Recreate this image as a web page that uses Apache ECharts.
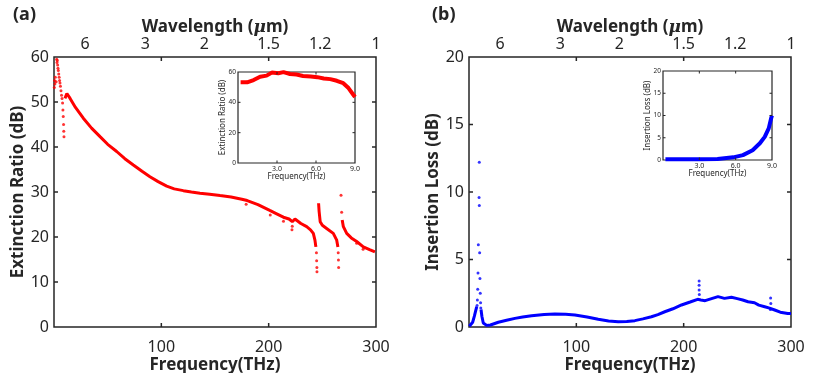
<!DOCTYPE html>
<html><head><meta charset="utf-8">
<script src="https://cdn.jsdelivr.net/npm/echarts@6/dist/echarts.min.js"></script>
<style>html,body{margin:0;padding:0;background:#fff}#c{width:830px;height:373px}</style>
</head><body><div id="c"></div>
<script>
// ---------- DATA ----------
const freqTicks = [100, 200];
const wlLabelFreq = [29, 85, 140, 200, 248, 300];
const wlLabels = ['6', '3', '2', '1.5', '1.2', '1'];
const erTicks = [10, 20, 30, 40, 50];
const ilTicks = [5, 10, 15];
const insetFreqTicks = [3, 6];
const erInsetTicks = [20, 40];
const ilInsetTicks = [5, 10, 15];

// (a) Extinction ratio main curve segments [THz, dB]
const erSeg1 = [[10.2,50.8],[12,51.9],[15,50.8],[20,48.8],[27.3,46.4],[35,44.2],[42.9,42.3],[50,40.6],[58.4,39.0],[66,37.4],[73.9,36.0],[82,34.6],[89.4,33.4],[97,32.3],[105,31.3],[112,30.7],[120.5,30.3],[128,30.0],[136,29.7],[145,29.5],[154.7,29.2],[165,28.9],[175,28.4],[180,28.1],[190,27.2],[201,25.9],[207,25.2],[213.7,24.4],[219,24.0],[222,23.4],[224.5,24.0],[230,23.0],[235.4,22.3],[239,21.6],[241.6,20.8],[243.1,19.3],[244,17.8]];
const erSeg2 = [[246.5,27.5],[247,25.7],[248,23.4],[250,22.6],[254,21.9],[260.2,20.8],[263.4,19.3],[264.5,17.8]];
const erSeg3 = [[268.5,23.8],[269.6,22.3],[272.7,20.8],[277,19.8],[282,19.0],[288.2,17.8],[294,17.2],[299,16.7]];
const erDots = [[0.3,53.2],[0.5,54.8],[0.8,54],[1.2,55.5],[2.0,54.5],[2.5,59.5],[2.8,58.8],[3.1,59.2],[3.4,58.2],[3.7,57.5],[4.0,57],[4.4,56.2],[4.8,55.5],[5.2,54.8],[5.6,54.2],[6.0,53.5],[6.5,52.5],[7.0,51.5],[7.5,50.8],[8.0,49.8],[8.3,48.2],[8.6,46.8],[8.9,45.0],[9.1,43.5],[9.3,42.3],
  [179,27.3],[201.5,24.9],[213.8,23.5],[221.7,21.6],[222,22.4],[244.5,16.5],[244.7,14.7],[244.9,13.2],[245,12.3],[264.8,16.5],[265,14.9],[265.2,13.2],[267.4,29.3],[268,25.5],[282,18.6],[288,17.3]];

// (b) Insertion loss main curve segments [THz, dB]
const ilSeg1 = [[0.3,0.05],[2,0.15],[3.4,0.35],[5,0.8],[6.2,1.2],[7.2,1.5]];
const ilSeg2 = [[11.2,1.3],[12,0.8],[13.3,0.3],[16.4,0.12],[20,0.15],[27.3,0.35],[35,0.5],[42.8,0.64],[50,0.74],[58.3,0.84],[70,0.93],[80,0.96],[90,0.94],[98.7,0.89],[110,0.74],[120.4,0.57],[130,0.45],[139,0.39],[147,0.4],[154.5,0.47],[162,0.6],[170,0.76],[176,0.92],[182.4,1.13],[190,1.35],[198,1.63],[206,1.85],[213,2.05],[216,2.0],[220,1.95],[226,2.1],[232,2.25],[238,2.12],[244.5,2.2],[250,2.1],[255,2.0],[260,1.87],[266,1.8],[270,1.62],[275.5,1.5],[280,1.4],[284.8,1.26],[290,1.1],[297,1.0],[300,1.0]];
const ilDots = [[9.6,12.2],[9.4,9.6],[9.6,9.0],[8.7,6.1],[9.9,5.5],[8.4,4.0],[10.2,3.6],[8.1,2.8],[10.5,2.5],[7.8,2.0],[10.8,1.8],[7.5,1.6],[11.0,1.4],[214.4,3.4],[214.4,3.1],[214.4,2.75],[214.6,2.4],[281,2.15],[281.2,1.75],[280.8,1.3]];

// insets [THz, dB]
const erInset = [[0.2,53.2],[0.7,53.2],[1.2,54.7],[1.7,56.9],[2.2,57.6],[2.6,59.6],[3.1,59.2],[3.5,59.9],[4.0,58.7],[4.5,58.3],[5.0,57.4],[5.6,57.0],[6.1,56.6],[6.6,55.7],[7.1,55.3],[7.6,54.2],[8.1,52.6],[8.5,49.4],[8.87,45.0],[9.0,43.5]];
const ilInset = [[0.2,0.15],[1.5,0.15],[3.0,0.18],[4.5,0.25],[5.8,0.6],[6.6,1.1],[7.4,2.2],[8.0,3.75],[8.4,5.2],[8.73,7.1],[8.95,9.6],[9.0,10.0]];

// ---------- CHART ----------
const FONT = 'Noto Sans';
const INK = '#262626';
const RED = '#ff0000', BLUE = '#0000ff';
const noLine = {show:false};
const noTick = {show:false};
const chart = echarts.init(document.getElementById('c'), null, {renderer:'canvas'});

// grid boxes (px)
const G = [
  {left:54, top:57, width:322, height:270},
  {left:469, top:57, width:322, height:270},
  {left:238, top:72, width:117, height:91},
  {left:663, top:71, width:109, height:89}
];

function mainX(grid) {
  return [{
    gridIndex:grid, type:'value', position:'bottom', min:0, max:300, interval:100,
    axisLine:noLine, axisTick:noTick,
    axisLabel:{color:INK, fontFamily:FONT, fontSize:16, margin:12, formatter:v=> v===0?'':String(v)},
    splitLine:{show:false},
    name:'Frequency(THz)', nameLocation:'middle', nameGap:30, nameMoveOverlap:false,
    nameTextStyle:{color:INK, fontFamily:FONT, fontSize:17, fontWeight:'bold'}
  },{
    gridIndex:grid, type:'value', position:'top', min:0, max:300,
    axisLine:noLine, axisTick:noTick,
    axisLabel:{color:INK, fontFamily:FONT, fontSize:16, margin:5, customValues:wlLabelFreq,
      formatter:v=>{const i=wlLabelFreq.indexOf(v);return i>=0?wlLabels[i]:'';}},
    splitLine:{show:false},
    name:'Wavelength ({i|μ}m)', nameLocation:'middle', nameGap:21, nameMoveOverlap:false,
    nameTextStyle:{color:INK, fontFamily:FONT, fontSize:17, fontWeight:'bold',
      rich:{i:{fontStyle:'italic', fontFamily:'DejaVu Serif', fontSize:17, color:INK}}}
  }];
}
function mainY(grid, max, interval, title) {
  return [{
    gridIndex:grid, type:'value', position:'left', min:0, max:max, interval:interval,
    axisLine:noLine, axisTick:noTick,
    axisLabel:{color:INK, fontFamily:FONT, fontSize:16, margin:5},
    splitLine:{show:false},
    name:title, nameLocation:'middle', nameGap:27, nameMoveOverlap:false,
    nameTextStyle:{color:INK, fontFamily:FONT, fontSize:17, fontWeight:'bold'}
  }];
}
function insetX(grid) {
  return [{
    gridIndex:grid, type:'value', position:'bottom', min:0, max:9, interval:3,
    axisLine:noLine, axisTick:noTick,
    axisLabel:{color:INK, fontFamily:FONT, fontSize:7, margin:2, formatter:v=> v===0?'':v.toFixed(1)},
    splitLine:{show:false},
    name:'Frequency(THz)', nameLocation:'middle', nameGap:10, nameMoveOverlap:false,
    nameTextStyle:{color:INK, fontFamily:FONT, fontSize:8}
  }];
}
function insetY(grid, max, interval, title) {
  return [{
    gridIndex:grid, type:'value', position:'left', min:0, max:max, interval:interval,
    axisLine:noLine, axisTick:noTick,
    axisLabel:{color:INK, fontFamily:FONT, fontSize:6.5, margin:2},
    splitLine:{show:false},
    name:title, nameLocation:'middle', nameGap:11, nameMoveOverlap:false,
    nameTextStyle:{color:INK, fontFamily:FONT, fontSize:8}
  }];
}
function lineS(xi, yi, data, color, w) {
  return {type:'line', xAxisIndex:xi, yAxisIndex:yi, data:data, showSymbol:false, symbol:'none',
    lineStyle:{color:color, width:w}, silent:true, animation:false, z:3};
}
function dotS(xi, yi, data, color) {
  return {type:'scatter', xAxisIndex:xi, yAxisIndex:yi, data:data, symbol:'circle', symbolSize:3,
    itemStyle:{color:color}, silent:true, animation:false, z:3};
}
// inward tick marks: short line segments at each tick value, placed through the axis scales
function tickSeg(xi, yi, a, b, w) {
  return {type:'line', xAxisIndex:xi, yAxisIndex:yi, data:[a, b], showSymbol:false, symbol:'none',
    lineStyle:{color:INK, width:w}, silent:true, animation:false, z:5};
}
function boxTicks(xi, yi, g, xr, yr, xVals, yVals, lenPx, w) {
  const dy = lenPx * (yr[1]-yr[0]) / g.height;   // tick length in y units
  const dx = lenPx * (xr[1]-xr[0]) / g.width;    // tick length in x units
  const out = [];
  xVals.forEach(v => {
    out.push(tickSeg(xi, yi, [v, yr[0]], [v, yr[0]+dy], w));
    out.push(tickSeg(xi, yi, [v, yr[1]], [v, yr[1]-dy], w));
  });
  yVals.forEach(v => {
    out.push(tickSeg(xi, yi, [xr[0], v], [xr[0]+dx, v], w));
    out.push(tickSeg(xi, yi, [xr[1], v], [xr[1]-dx, v], w));
  });
  return out;
}

const gridBase = {show:true, borderColor:INK, outerBoundsMode:'none', containLabel:false};
chart.setOption({
  animation:false,
  backgroundColor:'#fff',
  textStyle:{fontFamily:FONT},
  title:[
    {text:'(a)', left:8, top:1, textStyle:{fontFamily:FONT, fontSize:18, fontWeight:'bold', color:INK}},
    {text:'(b)', left:427, top:1, textStyle:{fontFamily:FONT, fontSize:18, fontWeight:'bold', color:INK}}
  ],
  grid:[
    Object.assign({}, G[0], {borderWidth:1.5, backgroundColor:'transparent'}, gridBase),
    Object.assign({}, G[1], {borderWidth:1.5, backgroundColor:'transparent'}, gridBase),
    Object.assign({}, G[2], {borderWidth:1.2, backgroundColor:'#fff'}, gridBase),
    Object.assign({}, G[3], {borderWidth:1.2, backgroundColor:'#fff'}, gridBase)
  ],
  // xAxis: 0 a-bottom, 1 a-top, 2 b-bottom, 3 b-top, 4 insetA, 5 insetB
  xAxis:[...mainX(0), ...mainX(1), ...insetX(2), ...insetX(3)],
  // yAxis: 0 a, 1 b, 2 insetA, 3 insetB
  yAxis:[...mainY(0,60,10,'Extinction Ratio (dB)'), ...mainY(1,20,5,'Insertion Loss (dB)'),
         ...insetY(2,60,20,'Extinction Ratio (dB)'), ...insetY(3,20,5,'Insertion Loss (dB)')],
  series:[
    lineS(0,0,erSeg1,RED,3), lineS(0,0,erSeg2,RED,3), lineS(0,0,erSeg3,RED,3), dotS(0,0,erDots,RED),
    lineS(2,1,ilSeg1,BLUE,3), lineS(2,1,ilSeg2,BLUE,3), dotS(2,1,ilDots,BLUE),
    lineS(4,2,erInset,RED,4),
    lineS(5,3,ilInset,BLUE,4),
    ...boxTicks(0,0,G[0],[0,300],[0,60],freqTicks,erTicks,4,1.5),
    ...boxTicks(2,1,G[1],[0,300],[0,20],freqTicks,ilTicks,4,1.5),
    ...boxTicks(4,2,G[2],[0,9],[0,60],insetFreqTicks,erInsetTicks,2.5,1),
    ...boxTicks(5,3,G[3],[0,9],[0,20],insetFreqTicks,ilInsetTicks,2.5,1)
  ]
});
</script></body></html>
